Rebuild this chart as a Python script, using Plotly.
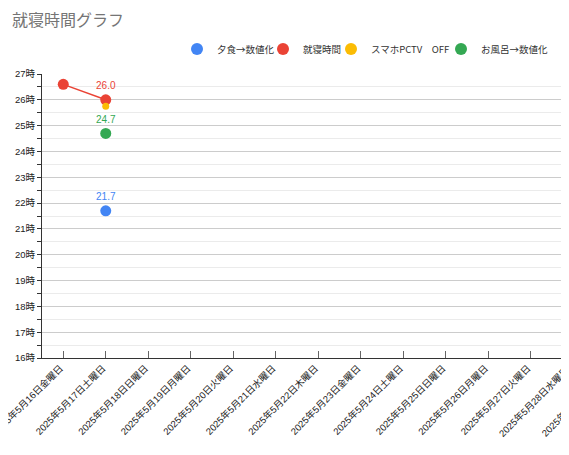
import plotly.graph_objects as go

dates = ['2025年5月16日金曜日', '2025年5月17日土曜日', '2025年5月18日日曜日',
         '2025年5月19日月曜日', '2025年5月20日火曜日', '2025年5月21日水曜日',
         '2025年5月22日木曜日', '2025年5月23日金曜日', '2025年5月24日土曜日',
         '2025年5月25日日曜日', '2025年5月26日月曜日', '2025年5月27日火曜日',
         '2025年5月28日水曜日', '2025年5月29日木曜日']

dinner_x = ['2025年5月17日土曜日']
dinner_y = [21.7]
bed_x = ['2025年5月16日金曜日', '2025年5月17日土曜日']
bed_y = [26.6, 26.0]
phone_x = ['2025年5月17日土曜日']
phone_y = [25.75]
bath_x = ['2025年5月17日土曜日']
bath_y = [24.7]

FONT = 'Arial, Liberation Sans, Noto Sans CJK JP'
BLUE, RED, YELLOW, GREEN = '#4285F4', '#EA4335', '#FBBC04', '#34A853'
XRANGE = [-0.5, 11.9]

fig = go.Figure()
# red line drawn separately so the legend shows only a dot
fig.add_trace(go.Scatter(x=bed_x, y=bed_y, mode='lines', line=dict(color=RED, width=1.5),
                         showlegend=False, hoverinfo='skip'))
fig.add_trace(go.Scatter(x=dinner_x, y=dinner_y, name='夕食→数値化', mode='markers+text',
                         marker=dict(color=BLUE, size=11), text=['%.1f' % v for v in dinner_y],
                         textposition='top center', textfont=dict(color=BLUE, size=10),
                         legend='legend'))
fig.add_trace(go.Scatter(x=bed_x, y=bed_y, name='就寝時間', mode='markers+text',
                         marker=dict(color=RED, size=11), text=['', '%.1f' % bed_y[1]],
                         textposition='top center', textfont=dict(color=RED, size=10),
                         legend='legend2'))
fig.add_trace(go.Scatter(x=phone_x, y=phone_y, name='スマホPCTV　OFF', mode='markers',
                         marker=dict(color=YELLOW, size=7), legend='legend3'))
fig.add_trace(go.Scatter(x=bath_x, y=bath_y, name='お風呂→数値化', mode='markers+text',
                         marker=dict(color=GREEN, size=11), text=['%.1f' % v for v in bath_y],
                         textposition='top center', textfont=dict(color=GREEN, size=10),
                         legend='legend4'))

# labels for the days that fall just past the right edge (axis hides them)
for i in (12, 13):
    fig.add_annotation(x=(i - XRANGE[0]) / (XRANGE[1] - XRANGE[0]), y=0, xref='paper', yref='paper',
                       text=dates[i], showarrow=False, textangle=-45, xanchor='right', yanchor='top',
                       xshift=1, yshift=-4, font=dict(size=9.5, color='#222'))

# one small legend per series so the entries sit tighter together
leg = dict(orientation='h', xanchor='left', y=1 + 25 / 284, yanchor='middle',
           font=dict(size=9.5, color='#333', family='Noto Sans CJK JP'),
           itemwidth=30, itemsizing='constant', bgcolor='rgba(0,0,0,0)')

# page body has an 8px margin, so the figure is sized to end at the window edge
fig.update_layout(
    width=561, height=447,
    margin=dict(l=34, r=0, t=66, b=97),
    paper_bgcolor='white', plot_bgcolor='white',
    font=dict(family=FONT, size=10, color='#222'),
    title=dict(text='就寝時間グラフ', x=4 / 561, xanchor='left', y=1 - 12 / 447, yanchor='middle',
               font=dict(size=16, color='#757575')),
    legend=dict(leg, x=135 / 527),
    legend2=dict(leg, x=221 / 527),
    legend3=dict(leg, x=289 / 527),
    legend4=dict(leg, x=399 / 527),
    showlegend=True,
    yaxis2=dict(overlaying='y', range=[16, 27], dtick=1, showticklabels=False, showgrid=False,
                ticks='inside', ticklen=4, tickcolor='#333', zeroline=False,
                minor=dict(dtick=0.5, ticks='inside', ticklen=4, tickcolor='#333')),
)

fig.update_xaxes(type='category', categoryorder='array', categoryarray=dates, range=XRANGE,
                 showgrid=False, showline=True, linecolor='#333', linewidth=1,
                 ticks='inside', ticklen=7, tickcolor='#666', tickangle=-45, automargin=False,
                 ticklabelshift=-3, tickfont=dict(size=9.5, color='#222'), zeroline=False)
fig.update_layout(yaxis=dict(range=[16, 27], dtick=1, ticksuffix='時', showgrid=True,
                             gridcolor='#cccccc', showline=True, linecolor='#333',
                             ticks='outside', ticklen=4, tickcolor='#333', automargin=False,
                             minor=dict(dtick=0.5, showgrid=True, gridcolor='#ebebeb',
                                        ticks='outside', ticklen=4, tickcolor='#333'),
                             tickfont=dict(size=9.5, color='#222'), zeroline=False))

fig.write_html("out.html")
